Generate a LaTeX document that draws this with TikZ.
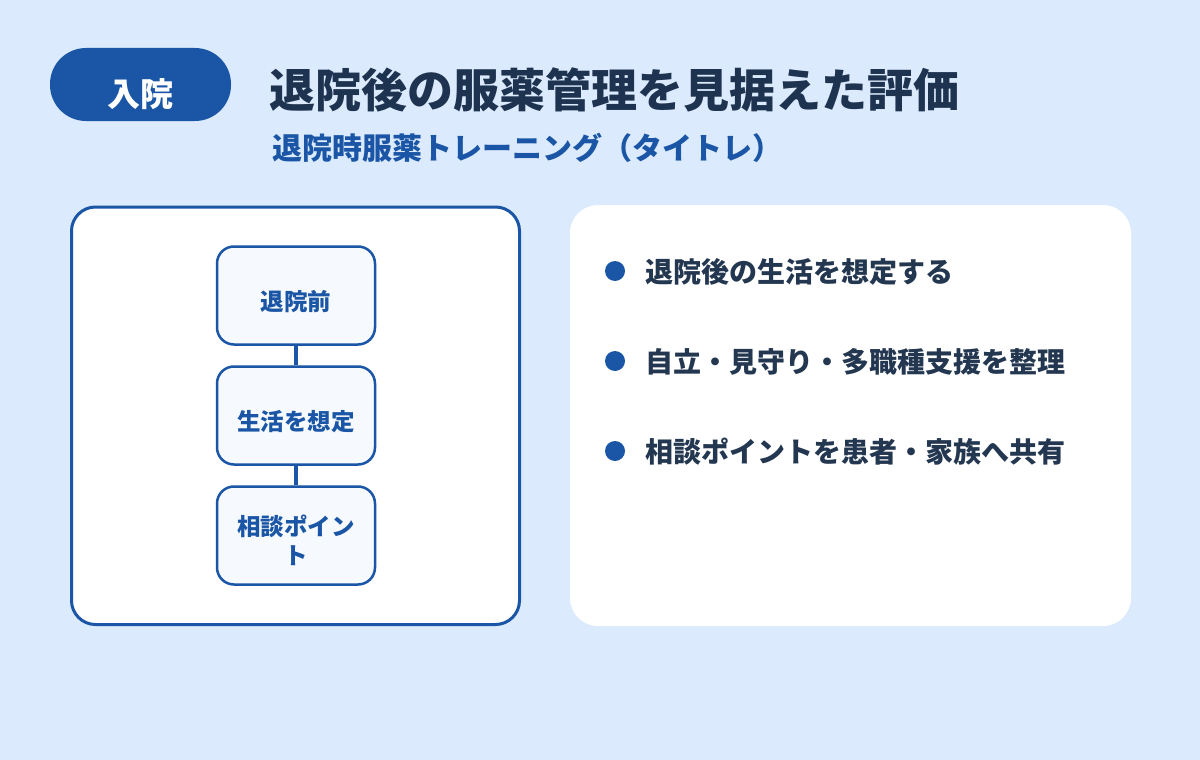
\documentclass[tikz,border=0pt]{standalone}
\usepackage{fontspec}
\setmainfont{Noto Sans CJK JP}
\definecolor{bg}{HTML}{DBEAFD}
\definecolor{mainblue}{HTML}{1A56A5}
\definecolor{titlec}{HTML}{1E3350}
\definecolor{bodyc}{HTML}{243750}
\definecolor{boxfill}{HTML}{F6F9FD}
\tikzset{
  panel/.style={fill=white, rounded corners=24pt},
  stepbox/.style={draw=mainblue, line width=2.5pt, fill=boxfill, rounded corners=17pt},
  steptext/.style={text=mainblue, font=\fontsize{23.5}{29}\selectfont\bfseries, align=center, inner sep=0pt},
  bullettext/.style={text=bodyc, font=\fontsize{28}{33}\selectfont\bfseries, anchor=west, inner sep=0pt},
  dot/.style={circle, fill=mainblue, minimum size=20pt, inner sep=0pt},
  link/.style={draw=mainblue, line width=4pt},
}
\begin{document}
\begin{tikzpicture}[x=1pt,y=-1pt]
\fill[bg] (0,0) rectangle (1200,760);
\useasboundingbox (0,0) rectangle (1200,760);
% badge
\fill[mainblue, rounded corners=36pt] (50,48) rectangle (231,121);
\node[text=white, font=\fontsize{33}{38}\selectfont\bfseries, inner sep=0pt] (badge) at (140.5,94) {入院};
% title
\node[text=titlec, font=\fontsize{46}{52}\selectfont\bfseries, anchor=west, inner sep=0pt] (title) at (269,90) {退院後の服薬管理を見据えた評価};
\node[text=mainblue, font=\fontsize{30}{35}\selectfont\bfseries, anchor=west, inner sep=0pt] (subtitle) at (272,148) {退院時服薬トレーニング（タイトレ）};
% left panel
\draw[panel, draw=mainblue, line width=3pt] (71.5,207) rectangle (519.5,624.5);
% right panel
\fill[panel, rounded corners=28pt] (570,205) rectangle (1131,626);
% step boxes
\node[stepbox, minimum width=158pt, minimum height=98pt] (b1) at (296,295.5) {};
\node[stepbox, minimum width=158pt, minimum height=98pt] (b2) at (296,415.5) {};
\node[stepbox, minimum width=158pt, minimum height=98pt] (b3) at (296,535.5) {};
\node[steptext] (t1) at (296,301.5) {退院前};
\node[steptext] (t2) at (296,421.5) {生活を想定};
\node[steptext] (t3) at (296,540) {相談ポイン\\ト};
\draw[link] (b1.south) -- (b2.north);
\draw[link] (b2.south) -- (b3.north);
% bullets
\node[dot] (d1) at (615,271) {};
\node[dot] (d2) at (615,361) {};
\node[dot] (d3) at (615,451) {};
\node[bullettext] (l1) at (645,272) {退院後の生活を想定する};
\node[bullettext] (l2) at (645,362) {自立・見守り・多職種支援を整理};
\node[bullettext] (l3) at (645,452) {相談ポイントを患者・家族へ共有};
\end{tikzpicture}
\end{document}
